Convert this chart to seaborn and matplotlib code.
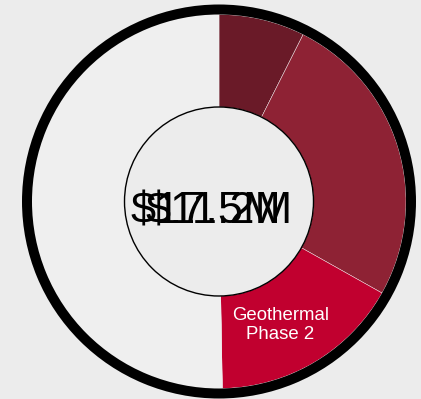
import matplotlib
matplotlib.use("Agg")
import matplotlib.pyplot as plt
import seaborn as sns
from matplotlib.patches import Circle

# Funding breakdown in $M, clockwise from 12 o'clock
segments = ["Project A", "Project B", "Geothermal Phase 2", "Unallocated"]
values_m = [1.3, 4.5, 2.9, 8.8]
segment_colors = ["#6a1a28", "#8e2234", "#c1002f", "#efefef"]
label_text = "Geothermal\nPhase 2"
labelled_segment = "Geothermal Phase 2"
center_totals = ["$17.5M", "$11.2M"]

sns.set_theme(style="white")
plt.rcParams["font.family"] = ["Liberation Sans", "DejaVu Sans"]

W, H = 421, 399
BG = "#ececec"
fig = plt.figure(figsize=(W / 100, H / 100), dpi=100, facecolor=BG)
ax = fig.add_axes([0, 0, 1, 1])
ax.set_facecolor(BG)

cx, cy = 219, H - 201.5
r_outer, ring_w, r_inner = 197, 10, 94.5
r_seg = r_outer - ring_w

palette = sns.color_palette(segment_colors)

# coloured segments
wedges, _ = ax.pie(
    values_m, colors=palette, startangle=90, counterclock=False,
    radius=r_seg, center=(cx, cy),
    wedgeprops=dict(width=r_seg - r_inner, edgecolor="#f4f4f4", linewidth=0.3),
)

# heavy black rim
ax.pie([1], colors=["black"], radius=r_outer, center=(cx, cy),
       wedgeprops=dict(width=ring_w, linewidth=0))

# centre disc
ax.add_patch(Circle((cx, cy), r_inner, facecolor=BG, edgecolor="black",
                    linewidth=1.0, zorder=3))

# segment label
ax.text(280.5, H - 325, label_text, color="white", fontsize=13.4,
        ha="center", va="center", linespacing=1.15, zorder=4)

# overlapping centre totals
ax.text(cx - 13, H - 223, center_totals[0], fontsize=32.5, color="black",
        ha="center", va="baseline", zorder=5)
ax.text(cx, H - 223, center_totals[1], fontsize=32.5, color="black",
        ha="center", va="baseline", zorder=5)

ax.set_xlim(0, W)
ax.set_ylim(0, H)
ax.set_aspect("equal")
ax.set_axis_off()

fig.savefig("out.png", dpi=100, facecolor=BG)
